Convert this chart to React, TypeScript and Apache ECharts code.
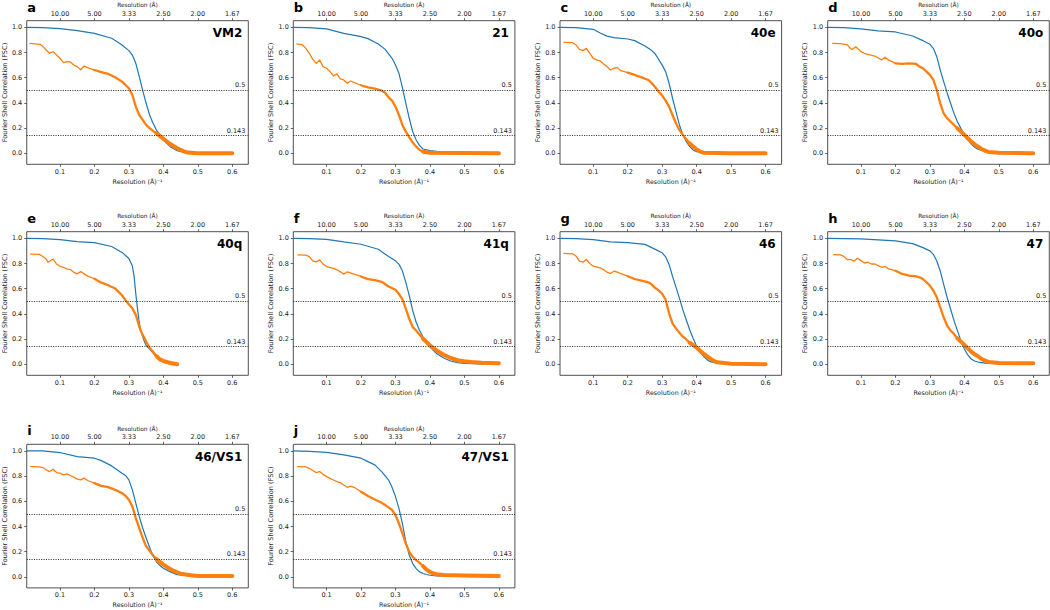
import React, { useEffect, useRef } from "react";
import * as echarts from "echarts";

// ---------- data ----------
const panelLetters = ["a", "b", "c", "d", "e", "f", "g", "h", "i", "j"];
const panelNames = ["VM2", "21", "40e", "40o", "40q", "41q", "46", "47", "46/VS1", "47/VS1"];
const xTicks = [0.1, 0.2, 0.3, 0.4, 0.5, 0.6];
const yTicks = [0, 0.2, 0.4, 0.6, 0.8, 1.0];
const thresholds = [0.5, 0.143];
const bottomAxisName = "Resolution (Å)⁻¹";
const topAxisName = "Resolution (Å)";
const yAxisName = "Fourier Shell Correlation (FSC)";

const blueVM2 = [[0.004,1.0],[0.05,0.997],[0.1,0.99],[0.15,0.974],[0.2,0.952],[0.25,0.913],[0.28,0.86],[0.3,0.815],[0.31,0.78],[0.32,0.714],[0.33,0.61],[0.34,0.5],[0.35,0.397],[0.36,0.304],[0.37,0.238],[0.38,0.185],[0.39,0.146],[0.4,0.106],[0.42,0.053],[0.44,0.02],[0.46,0.008],[0.5,0.003],[0.6,0.0]];
const orangeVM2 = [[0.013,0.873],[0.042,0.865],[0.05,0.849],[0.06,0.82],[0.07,0.794],[0.08,0.807],[0.09,0.78],[0.1,0.754],[0.11,0.72],[0.12,0.727],[0.13,0.725],[0.14,0.7],[0.15,0.688],[0.16,0.663],[0.17,0.693],[0.18,0.68],[0.2,0.661],[0.22,0.645],[0.24,0.63],[0.26,0.603],[0.28,0.569],[0.29,0.542],[0.3,0.516],[0.31,0.463],[0.32,0.37],[0.33,0.304],[0.34,0.265],[0.35,0.225],[0.36,0.2],[0.37,0.178],[0.38,0.158],[0.39,0.138],[0.4,0.115],[0.42,0.074],[0.44,0.04],[0.46,0.015],[0.47,0.006],[0.5,0.0],[0.55,0.0],[0.6,0.0]];

const blue21 = [[0.004,1.0],[0.05,0.997],[0.1,0.987],[0.15,0.952],[0.2,0.926],[0.22,0.91],[0.25,0.868],[0.27,0.825],[0.29,0.754],[0.3,0.7],[0.31,0.635],[0.32,0.524],[0.33,0.397],[0.34,0.278],[0.35,0.172],[0.36,0.106],[0.37,0.061],[0.38,0.034],[0.4,0.021],[0.42,0.016],[0.45,0.01],[0.5,0.005],[0.6,0.0]];
const orange21 = [[0.014,0.868],[0.03,0.86],[0.04,0.833],[0.05,0.794],[0.06,0.746],[0.07,0.714],[0.08,0.741],[0.09,0.688],[0.1,0.675],[0.11,0.648],[0.12,0.614],[0.13,0.63],[0.14,0.59],[0.15,0.582],[0.16,0.556],[0.17,0.574],[0.18,0.561],[0.2,0.54],[0.22,0.524],[0.24,0.513],[0.26,0.497],[0.27,0.481],[0.28,0.444],[0.29,0.418],[0.3,0.37],[0.31,0.304],[0.32,0.225],[0.33,0.172],[0.34,0.127],[0.35,0.085],[0.36,0.053],[0.37,0.026],[0.38,0.013],[0.4,0.005],[0.5,0.002],[0.6,0.0]];

const blue40e = [[0.004,1.0],[0.05,0.997],[0.1,0.984],[0.12,0.955],[0.14,0.93],[0.16,0.918],[0.2,0.907],[0.22,0.894],[0.25,0.852],[0.27,0.815],[0.28,0.788],[0.3,0.7],[0.31,0.648],[0.32,0.556],[0.33,0.437],[0.34,0.33],[0.35,0.225],[0.36,0.146],[0.37,0.093],[0.38,0.053],[0.39,0.026],[0.4,0.013],[0.42,0.005],[0.6,0.0]];
const orange40e = [[0.015,0.881],[0.04,0.878],[0.05,0.86],[0.06,0.825],[0.07,0.815],[0.08,0.833],[0.09,0.794],[0.1,0.754],[0.11,0.741],[0.12,0.733],[0.13,0.709],[0.14,0.688],[0.15,0.661],[0.16,0.675],[0.17,0.68],[0.18,0.656],[0.2,0.64],[0.22,0.622],[0.24,0.603],[0.26,0.582],[0.27,0.556],[0.28,0.524],[0.29,0.489],[0.3,0.458],[0.31,0.418],[0.32,0.37],[0.33,0.304],[0.34,0.238],[0.35,0.185],[0.36,0.146],[0.37,0.111],[0.38,0.079],[0.39,0.053],[0.4,0.032],[0.41,0.013],[0.42,0.005],[0.5,0.0],[0.6,0.0]];

const blue40o = [[0.004,1.0],[0.05,0.997],[0.1,0.987],[0.15,0.971],[0.2,0.963],[0.25,0.931],[0.28,0.894],[0.3,0.865],[0.31,0.833],[0.32,0.767],[0.33,0.661],[0.34,0.569],[0.35,0.481],[0.36,0.397],[0.37,0.317],[0.38,0.251],[0.39,0.198],[0.4,0.146],[0.41,0.106],[0.42,0.074],[0.43,0.048],[0.44,0.032],[0.46,0.013],[0.5,0.005],[0.6,0.0]];
const orange40o = [[0.018,0.873],[0.04,0.87],[0.06,0.862],[0.07,0.83],[0.075,0.825],[0.085,0.845],[0.1,0.807],[0.11,0.794],[0.12,0.786],[0.14,0.772],[0.16,0.741],[0.17,0.762],[0.18,0.741],[0.2,0.714],[0.22,0.709],[0.24,0.714],[0.26,0.709],[0.27,0.688],[0.28,0.675],[0.29,0.648],[0.3,0.622],[0.31,0.582],[0.32,0.503],[0.33,0.397],[0.34,0.317],[0.35,0.278],[0.36,0.251],[0.37,0.225],[0.38,0.198],[0.39,0.172],[0.4,0.146],[0.41,0.119],[0.42,0.093],[0.43,0.071],[0.44,0.053],[0.45,0.034],[0.46,0.021],[0.47,0.011],[0.5,0.005],[0.6,0.0]];

const blue40q = [[0.004,1.0],[0.05,0.997],[0.1,0.99],[0.15,0.974],[0.2,0.966],[0.25,0.935],[0.28,0.888],[0.3,0.84],[0.31,0.78],[0.315,0.7],[0.32,0.56],[0.325,0.44],[0.33,0.33],[0.335,0.26],[0.34,0.22],[0.345,0.18],[0.35,0.15],[0.36,0.12],[0.38,0.06],[0.4,0.025],[0.42,0.01],[0.44,0.0]];
const orange40q = [[0.015,0.875],[0.04,0.872],[0.05,0.856],[0.06,0.836],[0.065,0.81],[0.08,0.836],[0.09,0.796],[0.1,0.778],[0.11,0.77],[0.12,0.757],[0.13,0.752],[0.14,0.73],[0.15,0.718],[0.16,0.736],[0.17,0.718],[0.18,0.7],[0.2,0.679],[0.22,0.648],[0.24,0.627],[0.26,0.601],[0.27,0.575],[0.28,0.548],[0.29,0.509],[0.3,0.475],[0.31,0.444],[0.32,0.392],[0.33,0.3],[0.335,0.262],[0.34,0.235],[0.35,0.18],[0.36,0.131],[0.37,0.099],[0.38,0.065],[0.39,0.039],[0.4,0.026],[0.41,0.018],[0.42,0.01],[0.44,0.0]];

const blue41q = [[0.004,1.0],[0.05,0.998],[0.1,0.992],[0.15,0.971],[0.2,0.953],[0.25,0.913],[0.28,0.855],[0.3,0.821],[0.31,0.795],[0.32,0.742],[0.33,0.65],[0.34,0.545],[0.35,0.426],[0.36,0.334],[0.37,0.268],[0.38,0.216],[0.39,0.171],[0.4,0.137],[0.42,0.084],[0.44,0.05],[0.46,0.026],[0.48,0.013],[0.5,0.008],[0.6,0.0]];
const orange41q = [[0.017,0.868],[0.04,0.866],[0.05,0.855],[0.06,0.821],[0.07,0.813],[0.08,0.829],[0.09,0.795],[0.1,0.776],[0.12,0.761],[0.13,0.75],[0.14,0.734],[0.15,0.716],[0.16,0.734],[0.18,0.716],[0.2,0.697],[0.22,0.676],[0.24,0.668],[0.26,0.655],[0.28,0.618],[0.3,0.592],[0.31,0.558],[0.32,0.518],[0.33,0.439],[0.34,0.361],[0.35,0.295],[0.36,0.268],[0.37,0.234],[0.38,0.203],[0.39,0.176],[0.4,0.15],[0.41,0.129],[0.42,0.108],[0.43,0.092],[0.44,0.076],[0.46,0.05],[0.48,0.032],[0.5,0.024],[0.52,0.018],[0.55,0.013],[0.6,0.008]];

const blue46 = [[0.004,1.0],[0.05,0.997],[0.1,0.989],[0.15,0.971],[0.2,0.965],[0.25,0.952],[0.28,0.912],[0.3,0.885],[0.31,0.853],[0.32,0.792],[0.33,0.699],[0.34,0.613],[0.35,0.525],[0.36,0.432],[0.37,0.352],[0.38,0.272],[0.39,0.205],[0.4,0.144],[0.41,0.099],[0.42,0.064],[0.43,0.037],[0.44,0.021],[0.46,0.008],[0.5,0.003],[0.6,0.0]];
const orange46 = [[0.015,0.88],[0.04,0.877],[0.05,0.859],[0.06,0.819],[0.07,0.811],[0.08,0.832],[0.09,0.8],[0.1,0.779],[0.12,0.765],[0.13,0.752],[0.14,0.731],[0.15,0.72],[0.16,0.739],[0.17,0.731],[0.18,0.72],[0.2,0.699],[0.22,0.677],[0.24,0.664],[0.26,0.651],[0.27,0.632],[0.28,0.605],[0.29,0.587],[0.3,0.56],[0.31,0.512],[0.32,0.405],[0.33,0.325],[0.34,0.285],[0.35,0.251],[0.36,0.219],[0.37,0.197],[0.38,0.171],[0.39,0.152],[0.4,0.133],[0.41,0.107],[0.42,0.085],[0.43,0.064],[0.44,0.045],[0.45,0.027],[0.46,0.016],[0.48,0.01],[0.5,0.005],[0.6,0.0]];

const blue47 = [[0.004,1.0],[0.05,0.998],[0.1,0.995],[0.15,0.987],[0.2,0.979],[0.25,0.958],[0.28,0.926],[0.3,0.9],[0.31,0.873],[0.32,0.82],[0.33,0.741],[0.34,0.635],[0.35,0.532],[0.36,0.439],[0.37,0.347],[0.38,0.267],[0.39,0.188],[0.4,0.122],[0.41,0.074],[0.42,0.042],[0.43,0.026],[0.44,0.018],[0.46,0.01],[0.5,0.005],[0.6,0.0]];
const orange47 = [[0.021,0.87],[0.04,0.868],[0.05,0.857],[0.06,0.831],[0.07,0.831],[0.08,0.82],[0.09,0.841],[0.1,0.823],[0.11,0.804],[0.12,0.81],[0.13,0.796],[0.14,0.796],[0.15,0.783],[0.16,0.77],[0.17,0.778],[0.18,0.757],[0.2,0.743],[0.22,0.717],[0.24,0.704],[0.26,0.698],[0.27,0.69],[0.28,0.677],[0.29,0.651],[0.3,0.624],[0.31,0.585],[0.32,0.532],[0.33,0.452],[0.34,0.373],[0.35,0.307],[0.36,0.267],[0.37,0.241],[0.38,0.206],[0.39,0.18],[0.4,0.153],[0.41,0.127],[0.42,0.1],[0.43,0.079],[0.44,0.063],[0.45,0.042],[0.46,0.029],[0.47,0.019],[0.5,0.011],[0.55,0.008],[0.6,0.008]];

const blue46VS1 = [[0.004,1.0],[0.05,1.0],[0.1,0.987],[0.15,0.955],[0.2,0.942],[0.22,0.923],[0.25,0.881],[0.28,0.823],[0.29,0.805],[0.3,0.77],[0.31,0.691],[0.32,0.586],[0.33,0.48],[0.34,0.388],[0.35,0.309],[0.36,0.235],[0.37,0.165],[0.38,0.12],[0.39,0.09],[0.4,0.068],[0.42,0.04],[0.44,0.018],[0.46,0.011],[0.5,0.005],[0.6,0.0]];
const orange46VS1 = [[0.015,0.876],[0.04,0.873],[0.05,0.868],[0.06,0.85],[0.07,0.836],[0.08,0.855],[0.09,0.828],[0.1,0.823],[0.11,0.81],[0.12,0.818],[0.13,0.805],[0.14,0.792],[0.15,0.776],[0.16,0.77],[0.17,0.784],[0.18,0.765],[0.2,0.744],[0.22,0.723],[0.24,0.712],[0.26,0.691],[0.28,0.665],[0.29,0.644],[0.3,0.612],[0.31,0.559],[0.32,0.467],[0.33,0.388],[0.34,0.309],[0.35,0.243],[0.36,0.208],[0.37,0.172],[0.38,0.142],[0.39,0.119],[0.4,0.098],[0.41,0.079],[0.42,0.063],[0.43,0.047],[0.44,0.037],[0.45,0.026],[0.46,0.021],[0.48,0.013],[0.5,0.008],[0.6,0.008]];

const blue47VS1 = [[0.004,1.0],[0.05,0.997],[0.1,0.989],[0.15,0.968],[0.2,0.942],[0.22,0.915],[0.24,0.889],[0.26,0.836],[0.28,0.769],[0.29,0.711],[0.3,0.637],[0.31,0.544],[0.32,0.424],[0.33,0.279],[0.34,0.172],[0.35,0.106],[0.36,0.066],[0.37,0.04],[0.38,0.027],[0.39,0.019],[0.4,0.013],[0.42,0.008],[0.5,0.003],[0.6,0.0]];
const orange47VS1 = [[0.016,0.875],[0.04,0.873],[0.05,0.862],[0.06,0.844],[0.07,0.828],[0.08,0.836],[0.09,0.814],[0.1,0.796],[0.11,0.782],[0.12,0.769],[0.13,0.756],[0.14,0.748],[0.15,0.729],[0.16,0.711],[0.17,0.721],[0.18,0.711],[0.2,0.676],[0.22,0.642],[0.24,0.615],[0.26,0.589],[0.28,0.552],[0.29,0.531],[0.3,0.491],[0.31,0.424],[0.32,0.345],[0.33,0.265],[0.34,0.199],[0.35,0.159],[0.36,0.133],[0.37,0.111],[0.38,0.085],[0.39,0.058],[0.4,0.04],[0.41,0.027],[0.42,0.021],[0.44,0.016],[0.5,0.011],[0.6,0.008]];

const blueCurves = [blueVM2, blue21, blue40e, blue40o, blue40q, blue41q, blue46, blue47, blue46VS1, blue47VS1];
const orangeCurves = [orangeVM2, orange21, orange40e, orange40o, orange40q, orange41q, orange46, orange47, orange46VS1, orange47VS1];

// ---------- layout ----------
const COL_LEFT = [26.7, 293.3, 560, 827.7];
const ROW_TOP = [20.7, 231.7, 444.3];
const PW = 221.6;
const PH = 143.6;
const X_MIN = 0.0035;
const X_MAX = 0.6465;
const Y_MIN = -0.0873;
const Y_MAX = 1.0524;
const FONT = "'DejaVu Sans', 'Liberation Sans', sans-serif";
const BLUE = "#1f77b4";
const ORANGE = "#ff7f0e";
const INK = "#1a1a1a";
const FRAME = "#3c3c3c";

function segment(d: number[][], lo: number, hi: number) {
  return d.filter((p) => p[0] >= lo - 1e-9 && p[0] <= hi + 1e-9);
}

function buildOption() {
  const grid: any[] = [];
  const xAxis: any[] = [];
  const yAxis: any[] = [];
  const series: any[] = [];
  const graphic: any[] = [];

  panelNames.forEach((name, i) => {
    const col = i % 4;
    const row = Math.floor(i / 4);
    const left = COL_LEFT[col];
    const top = ROW_TOP[row];
    grid.push({
      left, top, width: PW, height: PH,
      show: true, borderColor: FRAME, borderWidth: 0.9,
      backgroundColor: "transparent",
    });
    const tickCommon = {
      show: true, length: 2.5, inside: false,
      lineStyle: { color: FRAME, width: 0.8 },
    };
    const hiddenLine = { show: false, onZero: false, lineStyle: { color: FRAME } };
    xAxis.push({
      gridIndex: i, type: "value", position: "bottom",
      min: X_MIN, max: X_MAX,
      axisLine: hiddenLine,
      splitLine: { show: false },
      axisTick: { ...tickCommon, customValues: xTicks },
      axisLabel: {
        customValues: xTicks, formatter: (v: number) => v.toFixed(1),
        fontSize: 6.5, color: INK, margin: 4, fontFamily: FONT,
      },
      name: bottomAxisName, nameLocation: "middle", nameGap: 14,
      nameTextStyle: { fontSize: 6.3, color: INK, fontFamily: FONT },
    });
    xAxis.push({
      gridIndex: i, type: "value", position: "top",
      min: X_MIN, max: X_MAX,
      axisLine: hiddenLine,
      splitLine: { show: false },
      axisTick: { ...tickCommon, customValues: xTicks },
      axisLabel: {
        customValues: xTicks, formatter: (v: number) => (1 / v).toFixed(2),
        fontSize: 6.5, color: INK, margin: 3.5, fontFamily: FONT,
      },
      name: topAxisName, nameLocation: "middle", nameGap: 12.5,
      nameTextStyle: { fontSize: 5.8, color: INK, fontFamily: FONT },
    });
    yAxis.push({
      gridIndex: i, type: "value",
      min: Y_MIN, max: Y_MAX,
      axisLine: hiddenLine,
      splitLine: { show: false },
      axisTick: { ...tickCommon, customValues: yTicks },
      axisLabel: {
        customValues: yTicks, formatter: (v: number) => v.toFixed(1),
        fontSize: 6.5, color: INK, margin: 4.5, fontFamily: FONT,
      },
      name: yAxisName, nameLocation: "middle", nameGap: 17.5, nameRotate: 90,
      nameTextStyle: { fontSize: 6.6, color: INK, fontFamily: FONT },
    });

    const xi = 2 * i;
    series.push({
      type: "line", xAxisIndex: xi, yAxisIndex: i,
      data: blueCurves[i], showSymbol: false, symbol: "none",
      lineStyle: { color: BLUE, width: 1.2 }, z: 2,
      markLine: {
        silent: true, symbol: "none",
        lineStyle: { type: [1.1, 1.3], color: "#222", width: 0.9 },
        label: {
          show: true, position: "insideEndTop", fontSize: 6.5, color: INK,
          fontFamily: FONT, distance: [3, 1.5],
        },
        data: thresholds.map((t) => ({
          yAxis: t,
          label: { formatter: String(t), color: INK },
        })),
      },
    });
    const o = orangeCurves[i];
    const segs = [
      { d: segment(o, 0, 0.2), w: 1.3 },
      { d: segment(o, 0.2, 0.38), w: 2.3 },
      { d: segment(o, 0.38, 1), w: 4 },
    ];
    segs.forEach((s) => {
      if (s.d.length > 1) {
        series.push({
          type: "line", xAxisIndex: xi, yAxisIndex: i,
          data: s.d, showSymbol: false, symbol: "none",
          lineStyle: { color: ORANGE, width: s.w, cap: "round", join: "round" }, z: 3,
        });
      }
    });

    graphic.push({
      type: "text", x: left + 0.5, y: top - 13.5,
      style: {
        text: panelLetters[i], font: `bold 13px ${FONT}`, fill: "#000",
        textAlign: "left", textVerticalAlign: "middle",
      },
    });
    graphic.push({
      type: "text", x: left + PW - 6, y: top + 12.5,
      style: {
        text: name, font: `bold 12px ${FONT}`, fill: "#000",
        textAlign: "right", textVerticalAlign: "middle",
      },
      z: 10,
    });
  });

  return {
    animation: false,
    textStyle: { color: INK, fontFamily: FONT },
    grid, xAxis, yAxis, series, graphic,
  };
}

export default function App() {
  const ref = useRef<HTMLDivElement>(null);
  useEffect(() => {
    if (!ref.current) return;
    const chart = echarts.init(ref.current, null, { renderer: "svg" });
    chart.setOption(buildOption() as any);
    return () => chart.dispose();
  }, []);
  return (
    <div
      ref={ref}
      style={{ position: "absolute", left: 0, top: 0, width: 1050, height: 610, background: "#fff" }}
    />
  );
}
